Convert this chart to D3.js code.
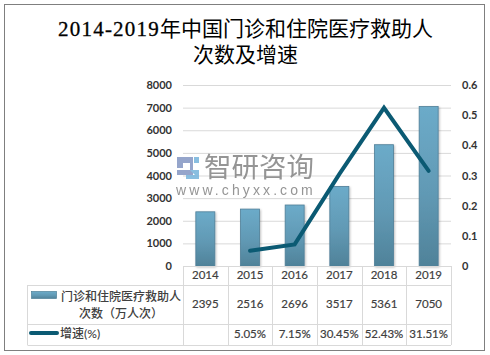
<!DOCTYPE html>
<html>
<head>
<meta charset="utf-8">
<script src="https://cdn.jsdelivr.net/npm/d3@7"></script>
<style>
  html, body { margin: 0; padding: 0; background: #fff; }
  svg { display: block; }
  text { font-family: Lato, "Noto Sans CJK SC", sans-serif; fill: #404040; }
</style>
</head>
<body>
<svg width="490" height="355"></svg>
<script>
const titleNumbers = "2014-2019";
const titleLines = ["年中国门诊和住院医疗救助人", "次数及增速"];
const years = ["2014", "2015", "2016", "2017", "2018", "2019"];
const visits = [2395, 2516, 2696, 3517, 5361, 7050];
const growth = [null, 5.05, 7.15, 30.45, 52.43, 31.51];
const leftTicks = [0, 1000, 2000, 3000, 4000, 5000, 6000, 7000, 8000];
const rightTicks = [0, 0.1, 0.2, 0.3, 0.4, 0.5, 0.6];
const barLegend = ["门诊和住院医疗救助人", "次数（万人次）"];
const lineLegend = "增速(%)";

const svg = d3.select("svg");
const plotLeft = 183, plotRight = 451, plotTop = 85, plotBottom = 266;
const tableLeft = 27.5;
const rowLines = [266, 285, 324, 345];
const gridColor = "#d9d9d9";
const lineColor = "#0b5a73";
const labelSize = "11.5px";

const x = d3.scaleBand().domain(years).range([plotLeft, plotRight]);
const yLeft = d3.scaleLinear().domain([0, 8000]).range([plotBottom, plotTop]);
const yRight = d3.scaleLinear().domain([0, 0.6]).range([plotBottom, plotTop]);

// outer frame
svg.append("rect")
    .attr("x", 4.5).attr("y", 4.5)
    .attr("width", 480).attr("height", 346)
    .attr("fill", "#fff")
    .attr("stroke", "#7f7f7f")
    .attr("stroke-width", 1);

const defs = svg.append("defs");
const grad = defs.append("linearGradient").attr("id", "barFill")
    .attr("x1", 0).attr("y1", 0).attr("x2", 0).attr("y2", 1);
grad.append("stop").attr("offset", "0%").attr("stop-color", "#6cabc9");
grad.append("stop").attr("offset", "55%").attr("stop-color", "#6199b4");
grad.append("stop").attr("offset", "100%").attr("stop-color", "#4f8299");
const shadow = defs.append("filter").attr("id", "soft")
    .attr("x", "-30%").attr("y", "-30%").attr("width", "160%").attr("height", "160%");
shadow.append("feDropShadow")
    .attr("dx", 1).attr("dy", 1).attr("stdDeviation", 1)
    .attr("flood-color", "#000").attr("flood-opacity", 0.25);

// title
const titleFirst = svg.append("text")
    .attr("x", 245.5).attr("y", 36)
    .attr("text-anchor", "middle")
    .style("font-family", "'Liberation Serif', 'Noto Sans CJK SC', serif")
    .style("font-size", "21px")
    .style("fill", "#000");
titleFirst.append("tspan")
    .style("stroke", "#000")
    .style("stroke-width", "0.3px")
    .style("letter-spacing", "1.2px")
    .text(titleNumbers);
titleFirst.append("tspan").text(titleLines[0]);
svg.append("text")
    .attr("x", 245.5).attr("y", 62)
    .attr("text-anchor", "middle")
    .style("font-size", "21px")
    .style("fill", "#000")
    .text(titleLines[1]);

// axes: only gridlines and labels, no domain
const leftAxis = svg.append("g")
    .attr("class", "axis")
    .attr("transform", `translate(${plotLeft},0)`)
    .call(d3.axisLeft(yLeft).tickValues(leftTicks).tickSize(0).tickPadding(11).tickFormat(d3.format("d")));
const rightAxis = svg.append("g")
    .attr("class", "axis")
    .attr("transform", `translate(${plotRight},0)`)
    .call(d3.axisRight(yRight).tickValues(rightTicks).tickSize(0).tickPadding(11).tickFormat(d => d));
leftAxis.select(".domain").remove();
rightAxis.select(".domain").remove();
svg.selectAll(".axis text")
    .style("font-family", "Lato, sans-serif")
    .style("font-size", "11px")
    .style("font-weight", "700")
    .style("fill", "#333");

svg.append("g").selectAll("line")
    .data(leftTicks.filter(d => d > 0))
    .join("line")
    .attr("x1", plotLeft).attr("x2", plotRight)
    .attr("y1", d => yLeft(d) + 0.5).attr("y2", d => yLeft(d) + 0.5)
    .attr("stroke", gridColor);

// bars
const barW = 19;
svg.append("g").selectAll("rect")
    .data(visits)
    .join("rect")
    .attr("x", (d, i) => x(years[i]) + (x.bandwidth() - barW) / 2)
    .attr("y", d => yLeft(d))
    .attr("width", barW)
    .attr("height", d => plotBottom - yLeft(d))
    .attr("fill", "url(#barFill)")
    .attr("stroke", "#4f7f98")
    .attr("stroke-width", 0.8)
    .attr("filter", "url(#soft)");

// growth line
const line = d3.line()
    .defined(d => d.v !== null)
    .x(d => x(d.year) + x.bandwidth() / 2)
    .y(d => yRight(d.v / 100));
svg.append("path")
    .datum(years.map((year, i) => ({ year, v: growth[i] })))
    .attr("d", line)
    .attr("fill", "none")
    .attr("stroke", lineColor)
    .attr("stroke-width", 4)
    .attr("stroke-linecap", "round")
    .attr("stroke-linejoin", "miter");

// table grid
const table = svg.append("g").attr("stroke", gridColor).attr("fill", "none");
const colLines = years.map(y => x(y)).concat([plotRight]);
table.selectAll(".col")
    .data(colLines)
    .join("line")
    .attr("x1", d => Math.round(d) + 0.5).attr("x2", d => Math.round(d) + 0.5)
    .attr("y1", plotBottom).attr("y2", rowLines[3]);
table.append("line")
    .attr("x1", plotLeft).attr("x2", plotRight)
    .attr("y1", rowLines[0] + 0.5).attr("y2", rowLines[0] + 0.5);
table.selectAll(".row")
    .data(rowLines.slice(1))
    .join("line")
    .attr("x1", tableLeft).attr("x2", plotRight)
    .attr("y1", d => d + 0.5).attr("y2", d => d + 0.5);
table.append("line")
    .attr("x1", tableLeft).attr("x2", tableLeft)
    .attr("y1", rowLines[1]).attr("y2", rowLines[3]);

// table values
const cellText = (sel, yPos) => sel
    .attr("x", (d, i) => x(years[i]) + x.bandwidth() / 2)
    .attr("y", yPos)
    .attr("text-anchor", "middle")
    .style("font-size", labelSize)
    .style("stroke", "#404040")
    .style("stroke-width", "0.2px");
svg.append("g").selectAll("text").data(years).join("text").call(cellText, 279).text(d => d);
svg.append("g").selectAll("text").data(visits).join("text").call(cellText, 308).text(d => d);
svg.append("g").selectAll("text").data(growth).join("text").call(cellText, 338)
    .text(d => d === null ? "" : d.toFixed(2) + "%");

// legend keys
svg.append("rect")
    .attr("x", 31.5).attr("y", 291.5).attr("width", 25).attr("height", 7)
    .attr("fill", "url(#barFill)").attr("stroke", "#4d7f98").attr("stroke-width", 0.7);
svg.append("line")
    .attr("x1", 31).attr("x2", 57).attr("y1", 333).attr("y2", 333)
    .attr("stroke", lineColor).attr("stroke-width", 4).attr("stroke-linecap", "round");
svg.append("g").selectAll("text")
    .data(barLegend)
    .join("text")
    .attr("x", 121)
    .attr("y", (d, i) => 301 + i * 17)
    .attr("text-anchor", "middle")
    .style("font-size", "12px")
    .style("font-weight", "500")
    .text(d => d);
svg.append("text")
    .attr("x", 60).attr("y", 338)
    .style("font-size", "12px")
    .style("font-weight", "500")
    .text(lineLegend);

// watermark
const mark = svg.append("g").attr("opacity", 0.9);
mark.append("path")
    .attr("d", "M177 157h16v6h-10v5h-6zM177 170h13v-8h3v13h-16z")
    .attr("fill", "#8a9cc6");
mark.append("path")
    .attr("d", "M194 157h5v6h-5zM190 170h9v9h-13v-4h9z")
    .attr("fill", "#7db7dd");
mark.append("text")
    .attr("x", 204).attr("y", 177)
    .style("font-size", "27.5px")
    .style("font-weight", "400")
    .style("fill", "#8a8a8a")
    .text("智研咨询");
mark.append("text")
    .attr("x", 176).attr("y", 195)
    .style("font-family", "'Liberation Sans', sans-serif")
    .style("font-size", "14px")
    .style("letter-spacing", "3.1px")
    .style("fill", "#8a8a8a")
    .text("www.chyxx.com");
</script>
</body>
</html>
